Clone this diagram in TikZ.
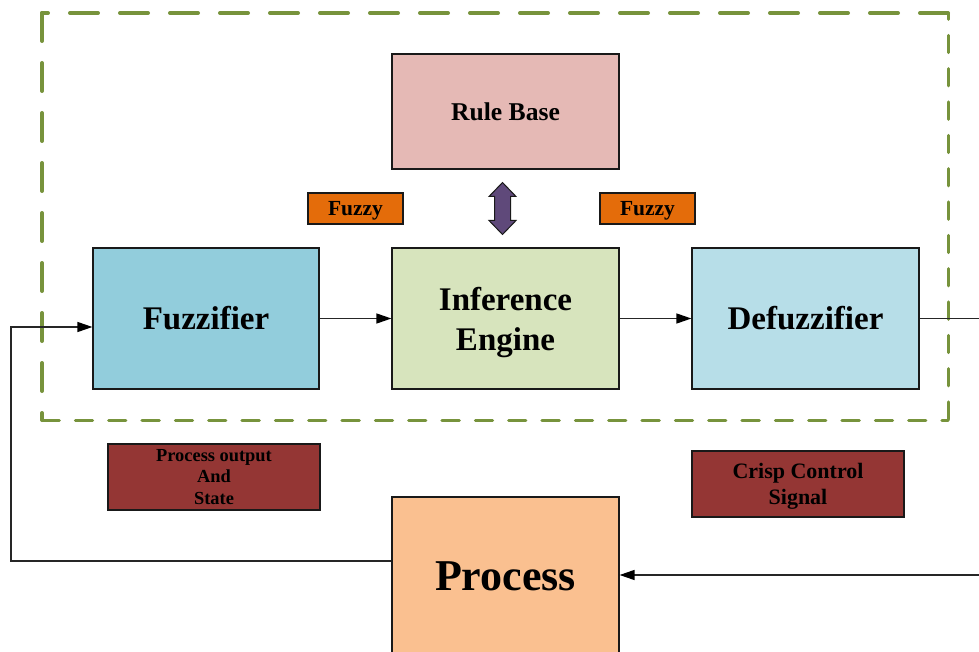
\documentclass[tikz,border=0pt]{standalone}
\usepackage{fontspec}
\setmainfont{Liberation Serif}
\usetikzlibrary{arrows.meta,calc}

\definecolor{rulefill}{HTML}{E5B9B5}
\definecolor{fuzzfill}{HTML}{92CDDC}
\definecolor{inffill}{HTML}{D7E4BD}
\definecolor{defuzzfill}{HTML}{B7DEE8}
\definecolor{tagorange}{HTML}{E46C0A}
\definecolor{tagred}{HTML}{943634}
\definecolor{procfill}{HTML}{FAC090}
\definecolor{linkpurple}{HTML}{5F497A}
\definecolor{framegreen}{HTML}{77933C}

\begin{document}
\begin{tikzpicture}[x=1pt,y=-1pt,
  block/.style={draw=black!90, line width=1.2pt, rectangle, inner sep=0pt,
    align=center},
  bigtext/.style={font={\fontsize{33}{40}\selectfont\bfseries}},
  tag/.style={draw=black!90, line width=1.2pt, rectangle, inner sep=0pt,
    fill=tagorange, minimum width=95pt, minimum height=31pt, text depth=0pt,
    font={\fontsize{21.5}{26}\selectfont\bfseries}},
  sigbox/.style={draw=black!90, line width=1.2pt, rectangle, inner sep=0pt,
    fill=tagred, minimum width=212pt, minimum height=66pt, align=center},
  flow/.style={draw=black!85, line width=1.3pt},
  flowarrow/.style={flow, -{Triangle[length=15pt,width=10pt,fill=black,color=black]}},
  frameheavy/.style={draw=framegreen, line width=4pt, line cap=round,
    dash pattern=on 28pt off 22pt},
  framelight/.style={draw=framegreen, line width=3pt, line cap=round,
    dash pattern=on 17.33pt off 16pt}]

\useasboundingbox (0,0) rectangle (979,652);
\clip (0,0) rectangle (979,652);

% dashed frame around the fuzzy controller
\draw[frameheavy] (948,13) -- (42,13);
\draw[frameheavy] (42,13) -- (42,420);
\draw[framelight] (42,420) -- (948,420);
\draw[framelight, dash phase=11pt] (948,13) -- (948,420);

% blocks
\node[block, fill=rulefill, minimum width=227pt, minimum height=115pt,
  font={\fontsize{25.6}{30}\selectfont\bfseries}] (rb) at (505.5,111.5) {Rule Base};
\node[block, bigtext, fill=fuzzfill, minimum width=226pt, minimum height=141pt]
  (fz) at (206,318.5) {Fuzzifier};
\node[block, bigtext, fill=inffill, minimum width=227pt, minimum height=141pt,
  text depth=0pt] (ie) at (505.5,318.5) {Inference\\Engine};
\node[block, bigtext, fill=defuzzfill, minimum width=227pt, minimum height=141pt]
  (dz) at (805.5,318.5) {Defuzzifier};
\node[block, fill=procfill, minimum width=227pt, minimum height=158pt,
  font={\fontsize{44}{50}\selectfont\bfseries}] (pr) at (505.5,576) {Process};

% labels
\node[tag] (fyl) at (355.5,208.5) {Fuzzy};
\node[tag] (fyr) at (647.5,208.5) {Fuzzy};
\node[sigbox, font={\fontsize{18.4}{21.5}\selectfont\bfseries}] (pos) at (214,477)
  {Process output\\And\\State};
\node[sigbox, text depth=0pt, font={\fontsize{22}{26}\selectfont\bfseries}] (ccs)
  at (798,484) {Crisp Control\\Signal};

% two-way link between rule base and inference engine
\coordinate (lk) at ($(rb.south)!0.5!(ie.north)+(-3,0)$);
\draw[fill=linkpurple, draw=black!90, line width=1pt, line join=miter]
  (lk) ++(0,-26) -- ++(13.5,14) -- ++(-5.5,0) -- ++(0,24) -- ++(5.5,0)
  -- ++(-13.5,14) -- ++(-13.5,-14) -- ++(5.5,0) -- ++(0,-24) -- ++(-5.5,0) -- cycle;

% signal flow
\coordinate (outR) at (979,318.5);
\coordinate (inR) at (979,575);
\coordinate (fbA) at (11,561);
\coordinate (fbB) at (11,327);
\draw[flowarrow] (fz.east) -- (ie.west);
\draw[flowarrow] (ie.east) -- (dz.west);
\draw[flow] (dz.east) -- (outR);
\draw[flowarrow] (inR) -- (inR -| pr.east);
\draw[flowarrow] (pr.west |- fbA) -- (fbA) -- (fbB) -- (fbB -| fz.west);

\end{tikzpicture}
\end{document}
